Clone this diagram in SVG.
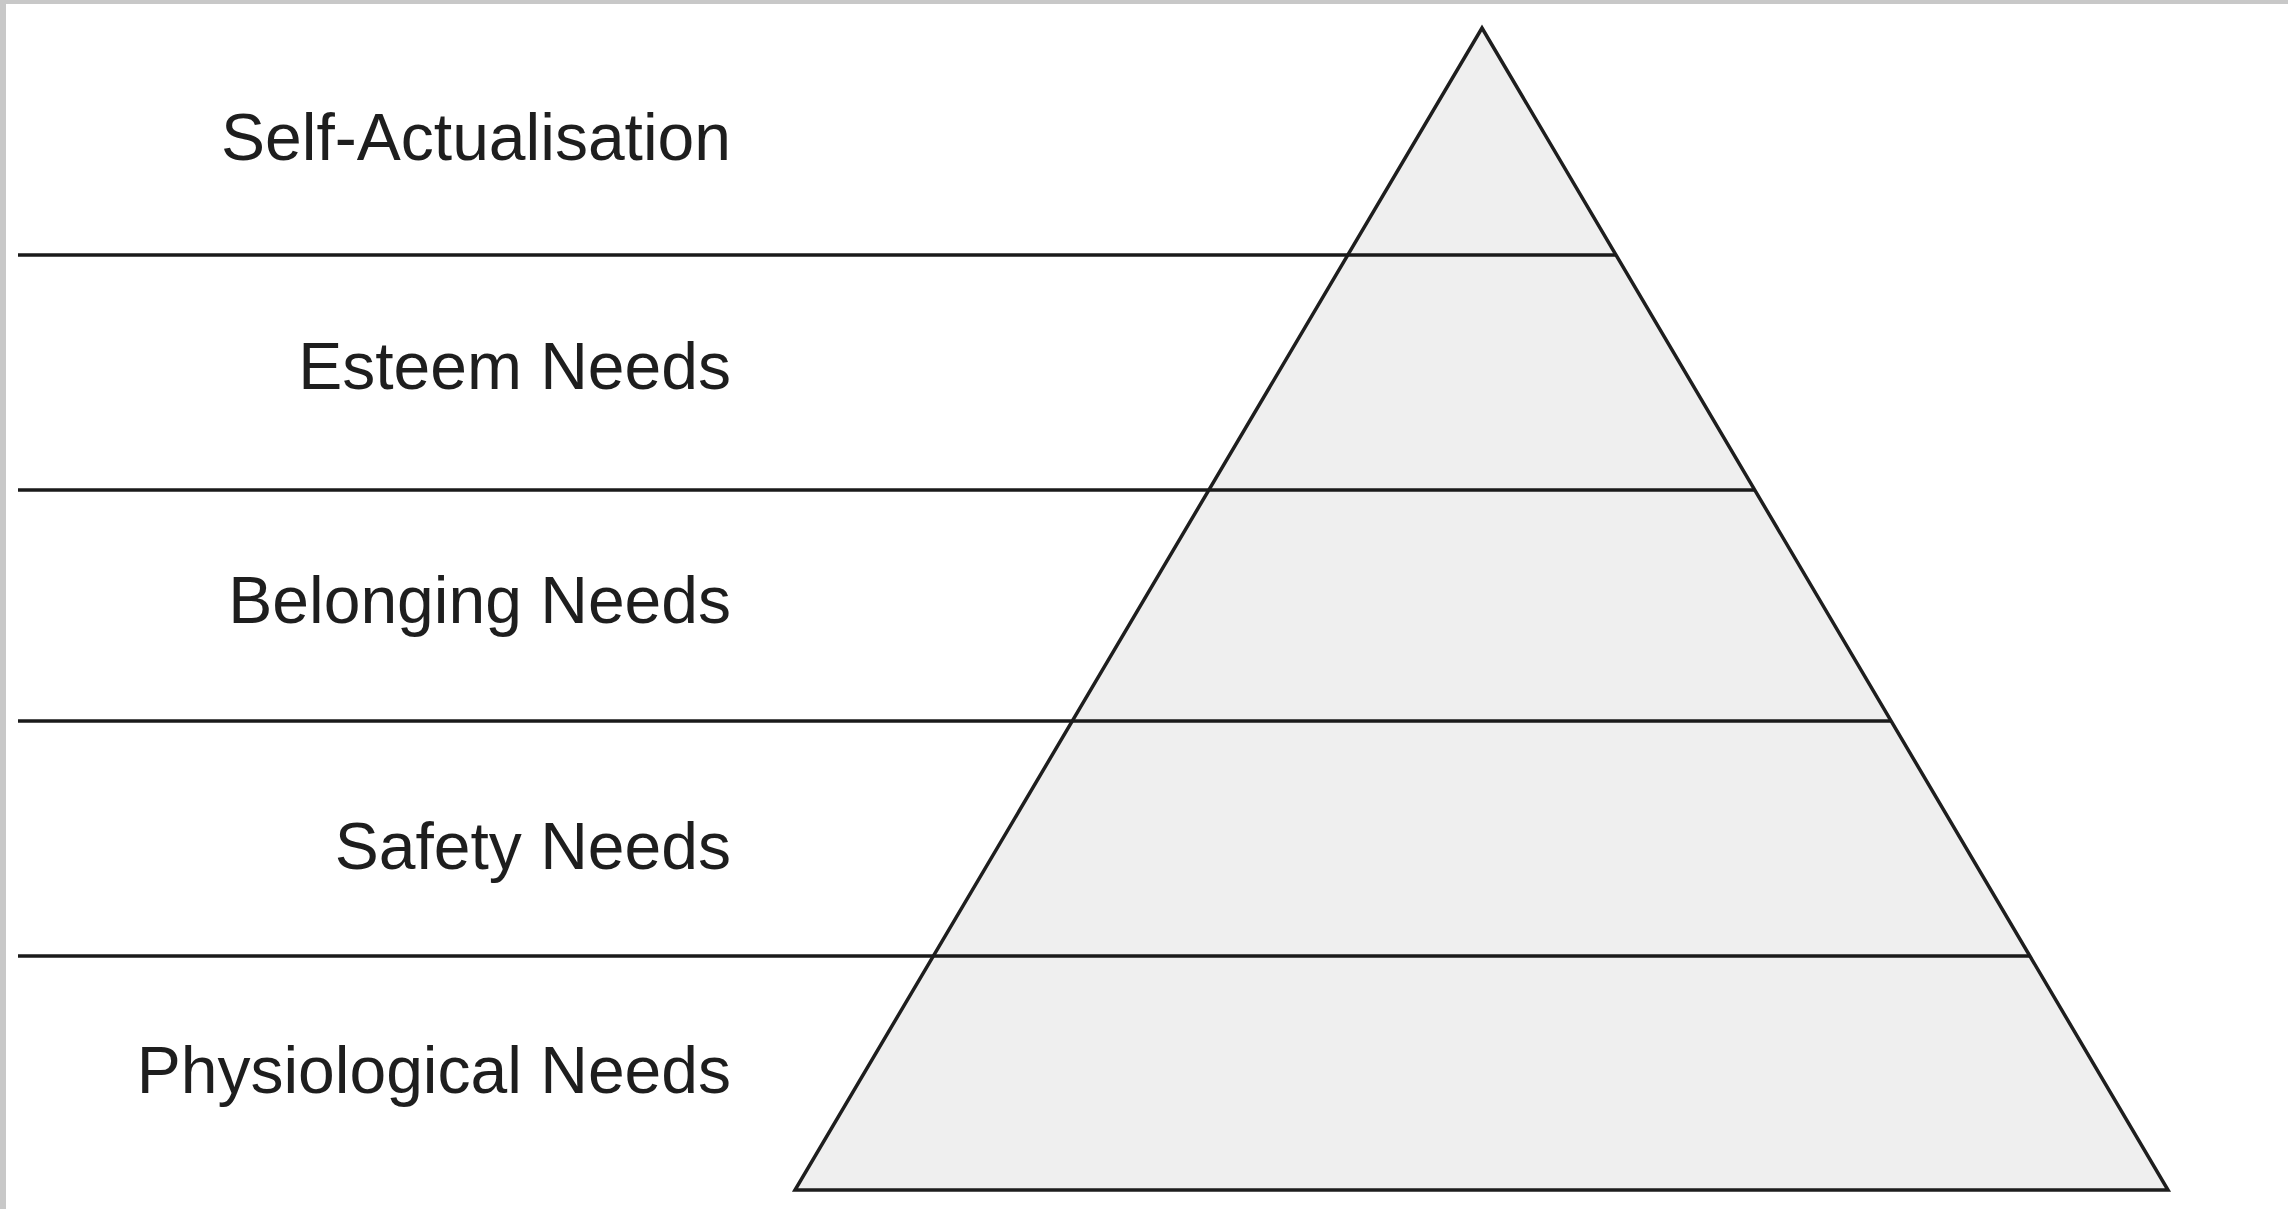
<svg xmlns="http://www.w3.org/2000/svg" width="2288" height="1209" viewBox="0 0 2288 1209">
<style>
.lbl{font-family:"Liberation Sans",Arial,sans-serif;font-size:66px;fill:#1e1e1e;text-anchor:end}
.ln{stroke:#1a1a1a;stroke-width:3.5;fill:none}
</style>
<rect x="0" y="0" width="2288" height="1209" fill="#ffffff"/>
<rect x="0" y="0" width="2288" height="4" fill="#c8c8c8"/>
<rect x="0" y="0" width="6" height="1209" fill="#c8c8c8"/>
<g id="pyramid">
<polygon points="1482,28 2168,1190 795,1190" fill="#efefef" stroke="#1e1e1e" stroke-width="3.5" stroke-linejoin="miter"/>
</g>
<g id="connectors">
<line class="ln" x1="18" y1="255" x2="1616" y2="255"/>
<line class="ln" x1="18" y1="490" x2="1755" y2="490"/>
<line class="ln" x1="18" y1="721" x2="1891" y2="721"/>
<line class="ln" x1="18" y1="956" x2="2030" y2="956"/>
</g>
<g id="self-actualisation"><text class="lbl" x="731" y="160">Self-Actualisation</text></g>
<g id="esteem"><text class="lbl" x="731" y="389">Esteem Needs</text></g>
<g id="belonging"><text class="lbl" x="731" y="623">Belonging Needs</text></g>
<g id="safety"><text class="lbl" x="731" y="869">Safety Needs</text></g>
<g id="physiological"><text class="lbl" x="731" y="1093">Physiological Needs</text></g>
</svg>
